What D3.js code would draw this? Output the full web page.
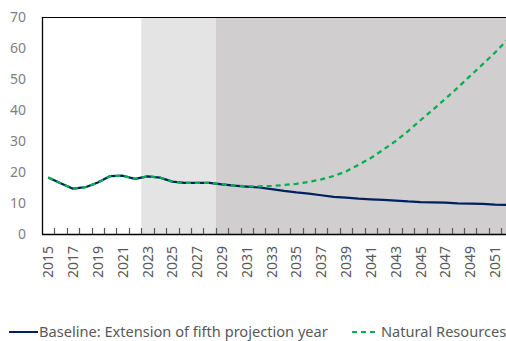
<!DOCTYPE html>
<html>
<head>
<meta charset="utf-8">
<script src="https://cdn.jsdelivr.net/npm/d3@7"></script>
<style>
  html, body { margin: 0; padding: 0; background: #fff; }
  svg { display: block; font-family: "Noto Sans", "Open Sans", sans-serif; }
</style>
</head>
<body>
<svg id="chart" width="506" height="341"></svg>
<script>
// Years on the category axis
const years = d3.range(2015, 2053);

// Baseline: extension of fifth projection year
const baseline = [
  18.2, 16.4, 14.6, 15.1, 16.6, 18.7, 18.8, 17.8, 18.6, 18.2,
  16.9, 16.5, 16.5, 16.5, 16.0, 15.6, 15.3, 15.0, 14.5, 13.9,
  13.4, 13.0, 12.5, 12.0, 11.7, 11.4, 11.2, 11.0, 10.8, 10.5,
  10.3, 10.2, 10.1, 9.9, 9.8, 9.7, 9.5, 9.4
];

// Natural Resources scenario
const naturalResources = [
  18.2, 16.4, 14.6, 15.1, 16.6, 18.7, 18.8, 17.8, 18.6, 18.2,
  16.9, 16.5, 16.5, 16.5, 16.0, 15.6, 15.4, 15.4, 15.5, 15.8,
  16.2, 16.8, 17.6, 18.7, 20.2, 22.3, 24.5, 27.2, 30.0, 33.2,
  36.7, 40.1, 43.6, 47.2, 51.0, 54.7, 58.5, 62.6
];

// Shaded projection periods (first year of each band, and the year after it ends)
const shadeStarts = [2023, 2029];
const shadeEnds = [2029, 2053];
const shadeColors = ["#e4e4e4", "#d0cece"];

const yTicks = [0, 10, 20, 30, 40, 50, 60, 70];
const xLabelYears = years.filter((d, i) => i % 2 === 0);

const legendLabels = ["Baseline: Extension of fifth projection year", "Natural Resources"];

(function draw() {
  const svg = d3.select("#chart");
  const plotLeft = 42, plotTop = 17, plotBottom = 234;
  const step = 12.41;
  const plotRight = plotLeft + step * years.length;

  const x = d3.scaleBand()
    .domain(years)
    .range([plotLeft, plotRight])
    .padding(0);

  const y = d3.scaleLinear().domain([0, 70]).range([plotBottom, plotTop]);

  // Shaded bands
  const bandEdge = yr => yr <= 2052 ? x(yr) : plotRight;
  svg.append("g").selectAll("rect")
    .data(shadeStarts)
    .join("rect")
    .attr("x", d => bandEdge(d))
    .attr("y", plotTop)
    .attr("width", (d, i) => bandEdge(shadeEnds[i]) - bandEdge(d))
    .attr("height", plotBottom - plotTop)
    .attr("fill", (d, i) => shadeColors[i]);

  // Frame: top line and left axis
  svg.append("line").attr("x1", plotLeft).attr("x2", plotRight).attr("y1", plotTop + 0.5).attr("y2", plotTop + 0.5)
    .attr("stroke", "#000").attr("stroke-width", 1);
  svg.append("line").attr("x1", plotLeft + 0.5).attr("x2", plotLeft + 0.5).attr("y1", plotTop).attr("y2", plotBottom)
    .attr("stroke", "#000").attr("stroke-width", 1.3);

  // Category tick marks between years, pointing up into the plot
  svg.append("g").selectAll("line")
    .data(years.slice(1))
    .join("line")
    .attr("x1", d => Math.round(x(d)) + 0.5)
    .attr("x2", d => Math.round(x(d)) + 0.5)
    .attr("y1", plotBottom)
    .attr("y2", plotBottom - 6)
    .attr("stroke", "#595959")
    .attr("stroke-width", 1.2);

  svg.append("line").attr("x1", plotLeft).attr("x2", plotRight).attr("y1", plotBottom + 0.5).attr("y2", plotBottom + 0.5)
    .attr("stroke", "#000").attr("stroke-width", 1.5);

  // Y axis labels
  svg.append("g").selectAll("text")
    .data(yTicks)
    .join("text")
    .attr("x", 26)
    .attr("y", d => y(d))
    .attr("dy", "0.36em")
    .attr("text-anchor", "end")
    .attr("font-size", 14)
    .attr("fill", "#7f7f7f")
    .text(d => d);

  // X axis labels, rotated
  svg.append("g").selectAll("text")
    .data(xLabelYears)
    .join("text")
    .attr("transform", d => `translate(${x(d) + x.bandwidth() / 2},246) rotate(-90)`)
    .attr("dy", "0.36em")
    .attr("text-anchor", "end")
    .attr("font-size", 14)
    .attr("fill", "#595959")
    .text(d => d);

  // Series lines
  const line = d3.line()
    .x((d, i) => x(years[i]) + x.bandwidth() / 2)
    .y(d => y(d));

  svg.append("path")
    .datum(baseline)
    .attr("d", line)
    .attr("fill", "none")
    .attr("stroke", "#002060")
    .attr("stroke-width", 2.25)
    .attr("stroke-linejoin", "round");

  svg.append("path")
    .datum(naturalResources)
    .attr("d", line)
    .attr("fill", "none")
    .attr("stroke", "#00b050")
    .attr("stroke-width", 2.25)
    .attr("stroke-dasharray", "5,4");

  // Legend
  const legendY = 332;
  const legend = svg.append("g");
  legend.append("line").attr("x1", 9).attr("x2", 38).attr("y1", legendY).attr("y2", legendY)
    .attr("stroke", "#002060").attr("stroke-width", 2);
  legend.append("text").attr("x", 39).attr("y", legendY).attr("dy", "0.34em")
    .attr("font-size", 14.6).attr("fill", "#595959").text(legendLabels[0]);
  legend.append("line").attr("x1", 352).attr("x2", 379).attr("y1", legendY).attr("y2", legendY)
    .attr("stroke", "#00b050").attr("stroke-width", 2).attr("stroke-dasharray", "5,4");
  legend.append("text").attr("x", 381).attr("y", legendY).attr("dy", "0.34em")
    .attr("font-size", 14.6).attr("fill", "#595959").text(legendLabels[1]);
})();
</script>
</body>
</html>
